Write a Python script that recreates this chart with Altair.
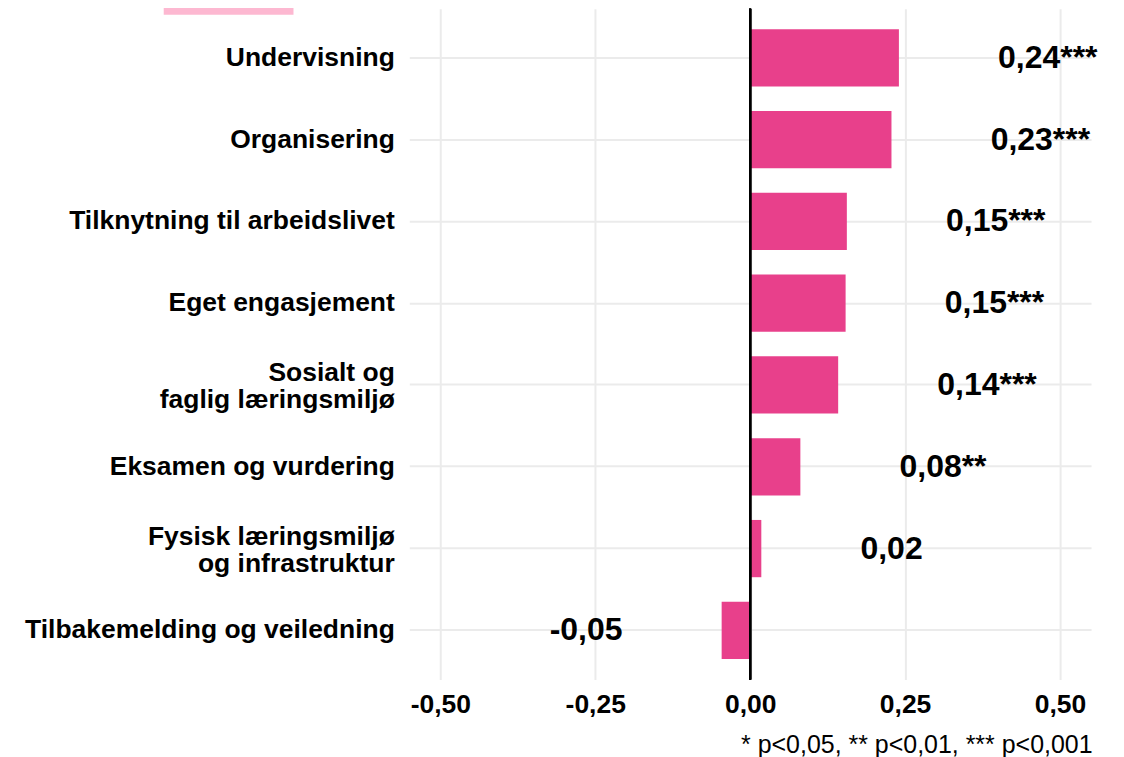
import altair as alt
import pandas as pd

categories = [
    "Undervisning",
    "Organisering",
    "Tilknytning til arbeidslivet",
    "Eget engasjement",
    "Sosialt og\nfaglig læringsmiljø",
    "Eksamen og vurdering",
    "Fysisk læringsmiljø\nog infrastruktur",
    "Tilbakemelding og veiledning",
]
values = [0.240, 0.228, 0.156, 0.154, 0.142, 0.081, 0.018, -0.046]
labels = ["0,24***", "0,23***", "0,15***", "0,15***", "0,14***", "0,08**", "0,02", "-0,05"]
x_ticks = [-0.5, -0.25, 0, 0.25, 0.5]
caption = "* p<0,05, ** p<0,01, *** p<0,001"

df = pd.DataFrame({"kategori": categories, "verdi": values, "etikett": labels})

FONT = "Liberation Sans"
BAR = "#E8408B"

y_enc = alt.Y(
    "kategori:N",
    sort=categories,
    title=None,
    scale=alt.Scale(paddingInner=0.3, paddingOuter=0.25),
    axis=alt.Axis(
        labelExpr="split(datum.label, '\\n')",
        labelFontSize=26.5,
        labelFontWeight="bold",
        labelColor="#000000",
        labelFont=FONT,
        labelLineHeight=27,
        labelPadding=15,
        labelLimit=0,
        labelOffset={"condition": {"test": "indexof(datum.label, '\\n') >= 0", "value": -12}, "value": 0},
        ticks=False,
        domain=False,
        grid=True,
        gridColor="#EBEBEB",
        gridWidth=2,
        bandPosition=0.5,
    ),
)

x_scale = alt.Scale(domain=[-0.55, 0.55], nice=False, zero=False)

bars = alt.Chart(df).mark_bar(color=BAR).encode(
    x=alt.X(
        "verdi:Q",
        scale=x_scale,
        title=None,
        axis=alt.Axis(
            values=x_ticks,
            labelExpr="(datum.value < 0 ? '-' : '') + replace(format(abs(datum.value), '.2f'), '.', ',')",
            labelFontSize=26.5,
            labelFontWeight="bold",
            labelColor="#000000",
            labelFont=FONT,
            labelPadding=12,
            ticks=False,
            domain=False,
            grid=True,
            gridColor="#EBEBEB",
            gridWidth=2,
        ),
    ),
    x2=alt.datum(0),
    y=y_enc,
)

zero = alt.Chart(df).mark_rule(color="#000000", strokeWidth=2).encode(
    x=alt.X("z:Q", scale=x_scale)
).transform_calculate(z="0")

base_text = alt.Chart(df).transform_calculate(
    lx="datum.verdi >= 0 ? datum.verdi + 0.16 : datum.verdi - 0.16"
)

pos_text = base_text.transform_filter("datum.verdi >= 0").mark_text(
    align="left", baseline="middle", fontSize=32, fontWeight="bold", font=FONT, color="#000000"
).encode(
    x=alt.X("lx:Q", scale=x_scale),
    y=alt.Y("kategori:N", sort=categories),
    text="etikett:N",
)

neg_text = base_text.transform_filter("datum.verdi < 0").mark_text(
    align="right", baseline="middle", fontSize=32, fontWeight="bold", font=FONT, color="#000000"
).encode(
    x=alt.X("lx:Q", scale=x_scale),
    y=alt.Y("kategori:N", sort=categories),
    text="etikett:N",
)

legend_rect = alt.Chart(pd.DataFrame({"a": [0]})).mark_rect(color="#FDB8D1").encode(
    x=alt.value(-246), x2=alt.value(-116), y=alt.value(-8), y2=alt.value(6)
)

chart = alt.layer(bars, zero, pos_text, neg_text, legend_rect).properties(
    width=683,
    height=672,
    autosize=alt.AutoSizeParams(type="none"),
    padding={"left": 402, "top": 0, "right": 25, "bottom": 80},
    title=alt.TitleParams(
        text=caption,
        orient="bottom",
        anchor="end",
        fontSize=25,
        fontWeight="normal",
        font=FONT,
        color="#000000",
        offset=15,
        dx=-5,
    ),
).configure_view(stroke=None).configure_axis(labelFlush=False)

chart.save("out.html", embed_options={"renderer": "svg", "actions": False})
